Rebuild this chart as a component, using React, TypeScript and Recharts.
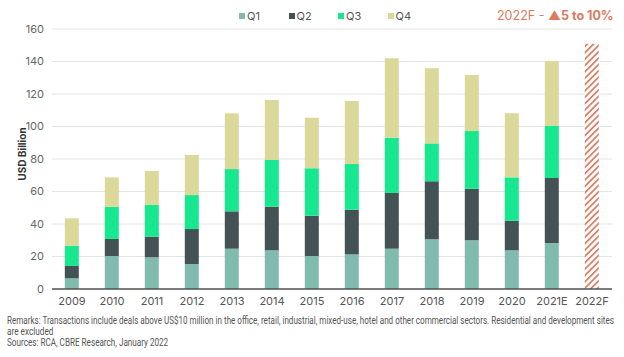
import { useLayoutEffect, useRef, useState } from 'react';
import { BarChart, Bar, XAxis, YAxis, CartesianGrid } from 'recharts';

const years = ['2009', '2010', '2011', '2012', '2013', '2014', '2015', '2016', '2017', '2018', '2019', '2020', '2021E', '2022F'];
const q1 = [6.6, 20.3, 19.5, 15.4, 24.8, 23.8, 20.3, 21.3, 24.8, 30.6, 30.0, 23.8, 28.3, null];
const q2 = [7.6, 10.5, 12.7, 21.5, 23.0, 26.8, 24.8, 27.5, 34.3, 35.7, 31.7, 18.2, 40.0, null];
const q3 = [12.3, 19.8, 19.5, 20.9, 26.0, 28.8, 29.2, 28.1, 34.0, 23.3, 35.5, 26.7, 32.0, null];
const q4 = [17.0, 18.1, 20.9, 24.7, 34.3, 36.9, 31.1, 38.8, 48.9, 46.2, 34.5, 39.4, 40.0, null];
const forecast = [null, null, null, null, null, null, null, null, null, null, null, null, null, 151];
const yTicks = [0, 20, 40, 60, 80, 100, 120, 140, 160];

const notes = [
  'Remarks: Transactions include deals above US$10 million in the office, retail, industrial, mixed-use, hotel and other commercial sectors. Residential and development sites',
  'are excluded',
  'Sources: RCA, CBRE Research, January 2022',
];

const series = [
  { key: 'Q1', color: '#80bbad' },
  { key: 'Q2', color: '#435254' },
  { key: 'Q3', color: '#17e88f' },
  { key: 'Q4', color: '#dbd99a' },
];

const RED = '#dc7a5e';
const FONT = 'Inter, Roboto, sans-serif';

const data = years.map((year, i) => ({
  year,
  Q1: q1[i],
  Q2: q2[i],
  Q3: q3[i],
  Q4: q4[i],
  F: forecast[i],
}));

function YLabel() {
  return (
    <text
      x={22}
      y={154}
      transform="rotate(-90 22 154)"
      textAnchor="middle"
      dominantBaseline="central"
      fontSize={10}
      fontWeight={700}
      fill="#333"
      fontFamily={FONT}
    >
      USD Billion
    </text>
  );
}

// squeeze a line of text to a given width (the source uses a condensed face)
function FitLine({ text, width, top }: { text: string; width: number; top: number }) {
  const ref = useRef<HTMLSpanElement>(null);
  const [scale, setScale] = useState(1);
  useLayoutEffect(() => {
    if (ref.current) {
      const w = ref.current.offsetWidth;
      if (w > 0) setScale(width / w);
    }
  }, [text, width]);
  return (
    <span
      ref={ref}
      style={{
        position: 'absolute',
        left: 7,
        top,
        whiteSpace: 'nowrap',
        fontFamily: 'Roboto, sans-serif',
        fontSize: 10,
        lineHeight: '11px',
        color: '#555',
        transform: `scaleX(${scale})`,
        transformOrigin: 'left top',
      }}
    >
      {text}
    </span>
  );
}

export default function App() {
  return (
    <div style={{ position: 'absolute', left: 0, top: 0, width: 624, height: 357, background: '#fff', fontFamily: FONT }}>
      <BarChart
        width={624}
        height={310}
        data={data}
        margin={{ top: 29, right: 12, left: 8, bottom: 0 }}
        barCategoryGap="32%"
      >
        <defs>
          <pattern id="hatch" patternUnits="userSpaceOnUse" width={4.5} height={4.5} patternTransform="rotate(45)">
            <rect width={4.5} height={4.5} fill="#fff" />
            <rect width={1.7} height={4.5} fill={RED} />
          </pattern>
        </defs>
        <CartesianGrid vertical={false} stroke="#e4e4e4" />
        <XAxis
          dataKey="year"
          tickLine={false}
          axisLine={{ stroke: '#555', strokeWidth: 1.5 }}
          tick={{ fill: '#555', fontSize: 11, fontFamily: FONT }}
          height={21}
          interval={0}
        />
        <YAxis
          width={44}
          domain={[0, 160]}
          ticks={yTicks}
          tickLine={false}
          axisLine={false}
          tick={{ fill: '#666', fontSize: 11, fontFamily: FONT }}
          label={<YLabel />}
        />
        {series.map((s) => (
          <Bar key={s.key} dataKey={s.key} stackId="a" fill={s.color} isAnimationActive={false} />
        ))}
        <Bar dataKey="F" stackId="a" fill="url(#hatch)" isAnimationActive={false} />
      </BarChart>

      <div style={{ position: 'absolute', top: 9, left: 0, width: 624, height: 14, fontSize: 11, color: '#555' }}>
        {series.map((s, i) => (
          <div key={s.key} style={{ position: 'absolute', left: 239 + i * 49.5, top: 0, display: 'flex', alignItems: 'center', height: 14 }}>
            <span style={{ display: 'inline-block', width: 6, height: 6, background: s.color, marginRight: 2 }} />
            <span>{s.key}</span>
          </div>
        ))}
        <div style={{ position: 'absolute', left: 497, top: -1, height: 14, fontSize: 12.5, color: RED, whiteSpace: 'nowrap' }}>
          <span>2022F - </span>
          <span style={{ fontWeight: 700 }}>▲5 to 10%</span>
        </div>
      </div>

      <FitLine text={notes[0]} width={607} top={315} />
      <FitLine text={notes[1]} width={46} top={326} />
      <FitLine text={notes[2]} width={161} top={337} />
    </div>
  );
}
